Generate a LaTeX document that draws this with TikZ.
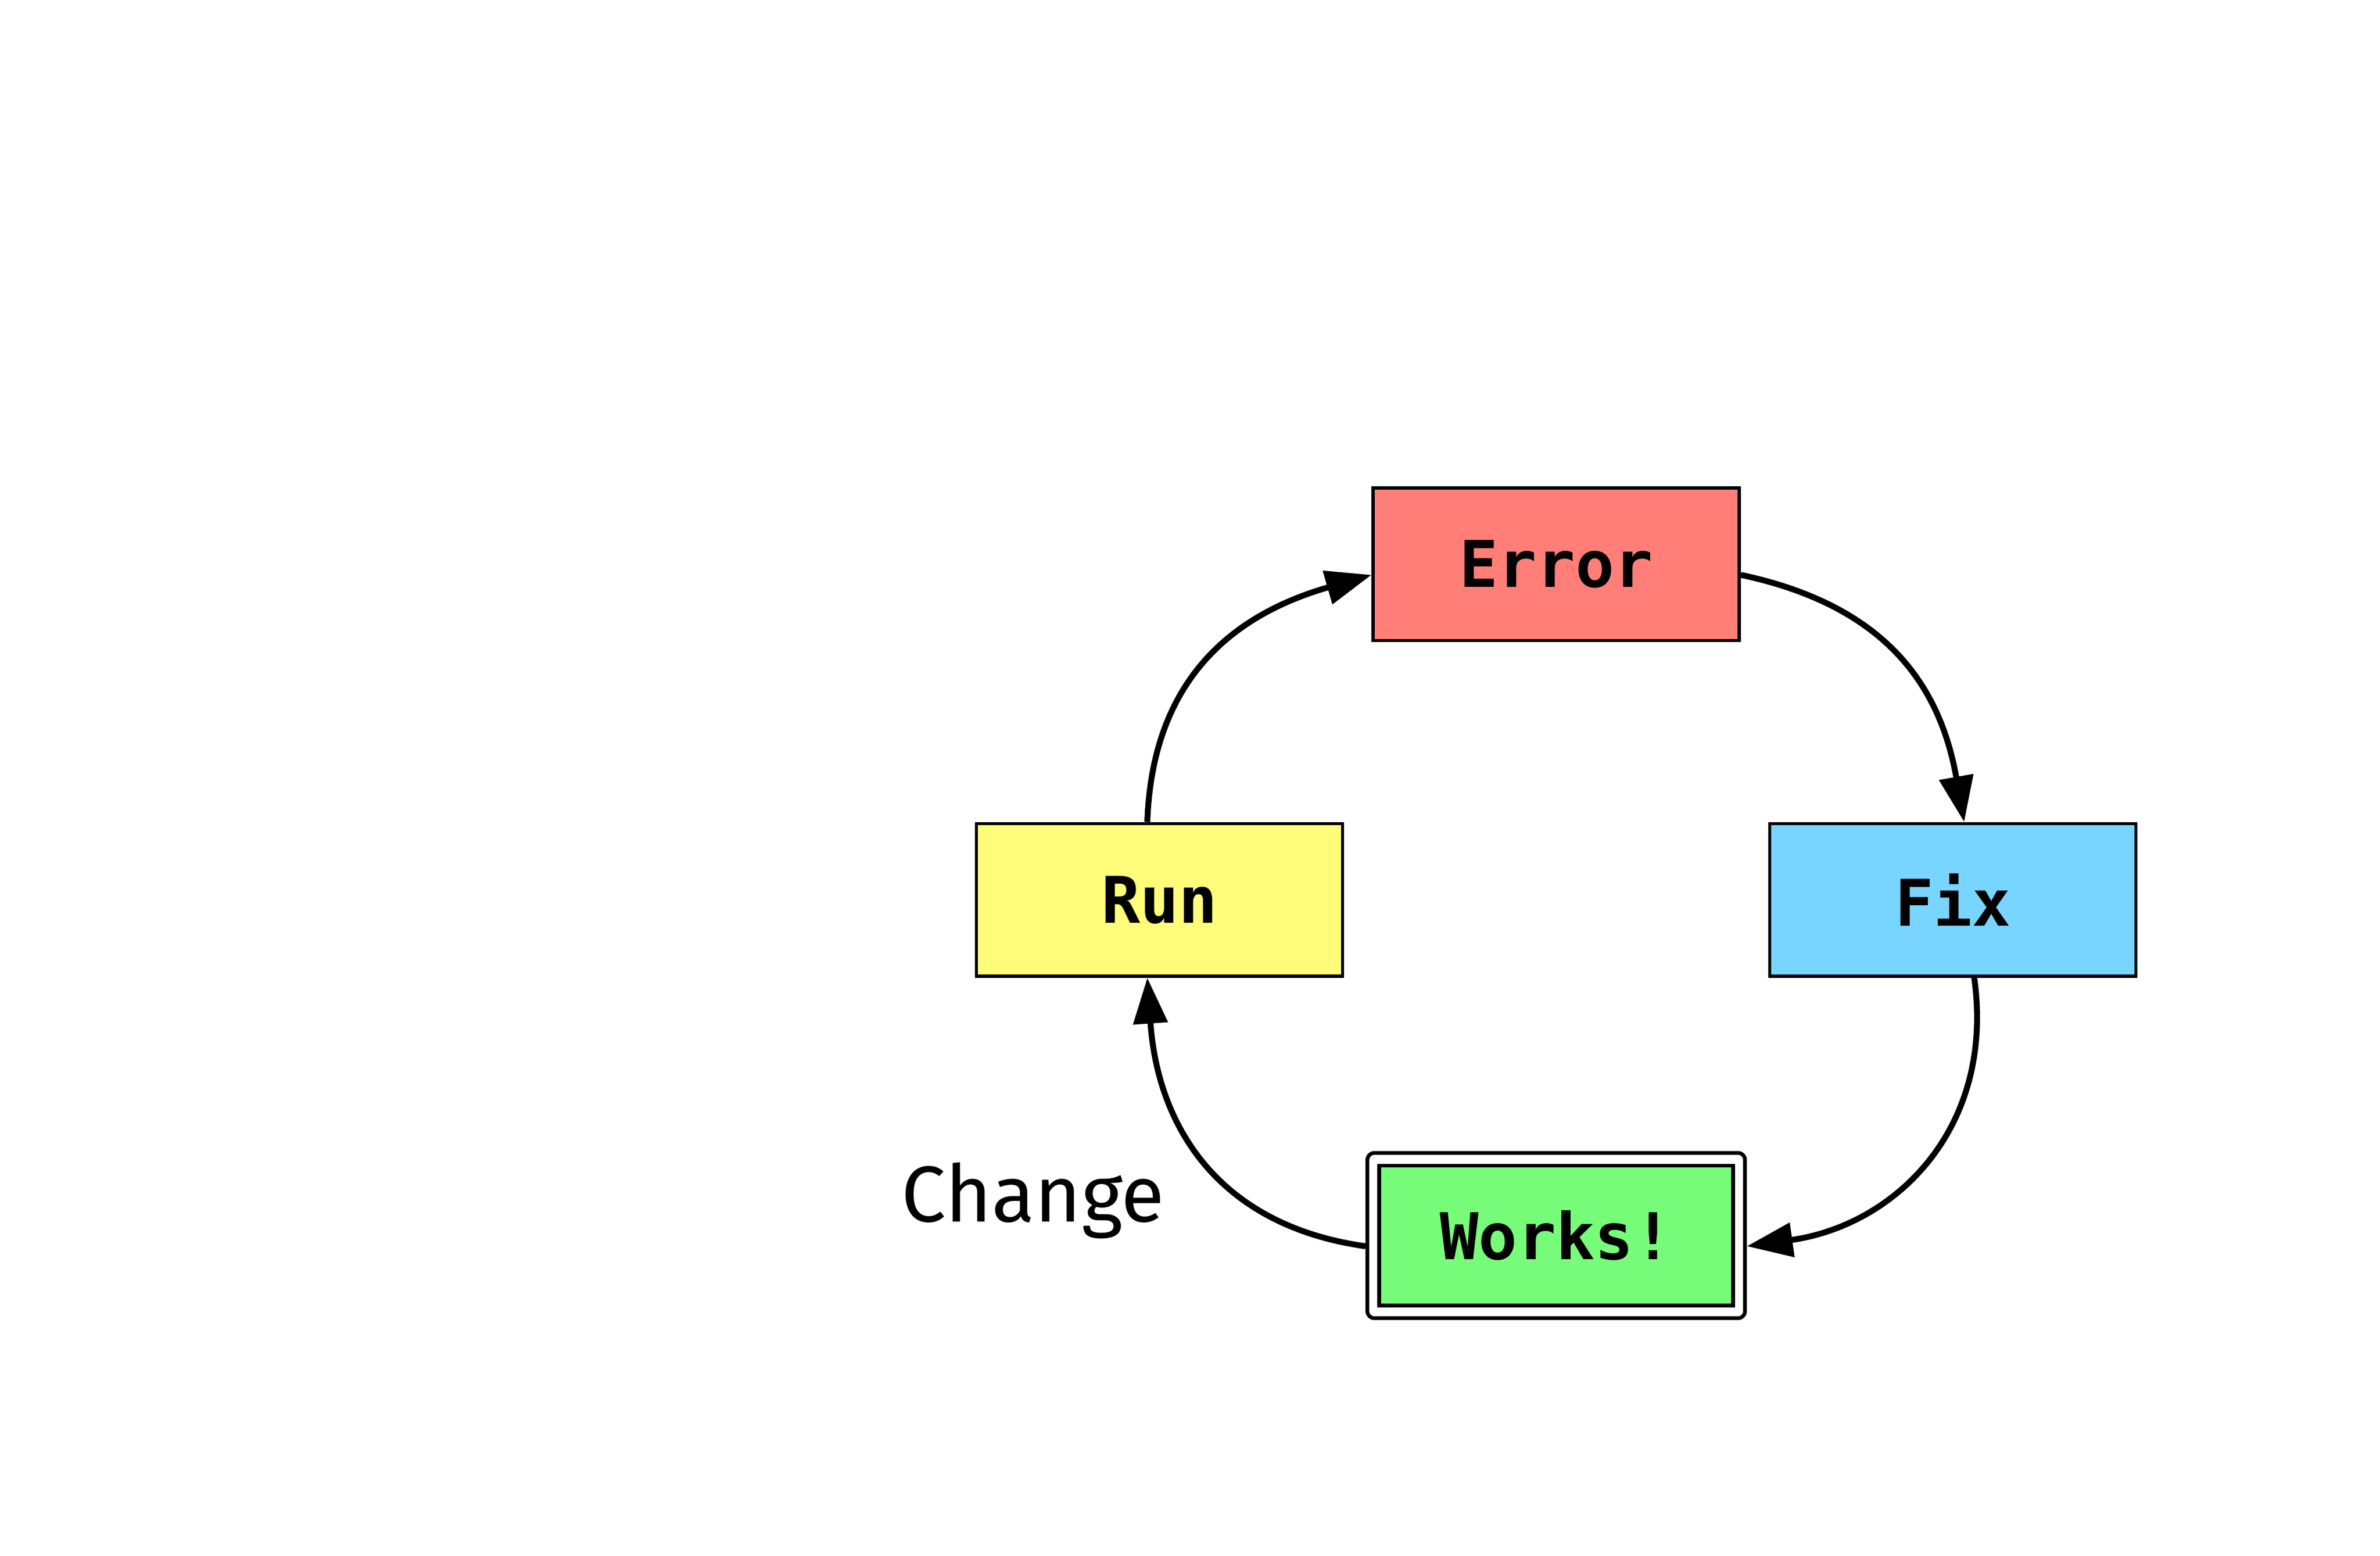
\documentclass[tikz,border=0pt]{standalone}
\usepackage{fontspec}
\setmonofont{DejaVu Sans Mono}
\setsansfont{Fira Sans}
\usetikzlibrary{arrows.meta,positioning}
\definecolor{errorcol}{HTML}{FF7F78}
\definecolor{runcol}{HTML}{FFFC7A}
\definecolor{fixcol}{HTML}{77D5FF}
\definecolor{workscol}{HTML}{77FC7A}
\begin{document}
\begin{tikzpicture}[
      stagebox/.style = {draw, line width = 0.6pt, minimum width = 2.4cm, minimum height = 1.0cm, inner sep = 0pt, font = \fontsize{12}{14}\selectfont\ttfamily\bfseries},
      flow/.style = {line width = 1.1pt, looseness = 1.1, -{Triangle[length = 3mm, width = 2.2mm]}}
    ]
      \useasboundingbox (0.0, 0.0) rectangle (15.6, 10.198);
      \node [stagebox, fill = errorcol] (error) at (10.2, 6.5) {Error};
      \node [stagebox, fill = runcol] (run) at (7.6, 4.3) {Run};
      \node [stagebox, fill = fixcol] (fix) at (12.8, 4.3) {Fix};
      \node [draw, fill = white, line width = 0.7pt, rounded corners = 0.45mm, minimum width = 2.475cm, minimum height = 1.083cm] (done) at (10.2, 2.1) {};
      \node [stagebox, fill = workscol, line width = 0.7pt, minimum width = 2.32cm, minimum height = 0.917cm] (works) at (done) {Works!};
      \node [base left = 1.31cm of done.west, yshift = 0.09cm, inner sep = 0pt, font = \fontsize{14.8}{16}\selectfont\sffamily] (change) {Change};
      \draw [flow] ([xshift = -0.08cm] run.north) to [out = 88, in = 196] ([yshift = -0.07cm] error.west);
      \draw [flow] ([yshift = -0.07cm] error.east) to [out = -12, in = 100] ([xshift = 0.074cm] fix.north);
      \draw [flow] ([xshift = 0.14cm] fix.south) to [out = -82, in = 8] ([yshift = -0.07cm] done.east);
      \draw [flow] ([yshift = -0.07cm] done.west) to [out = 172, in = -86] ([xshift = -0.08cm] run.south);
\end{tikzpicture}
\end{document}
